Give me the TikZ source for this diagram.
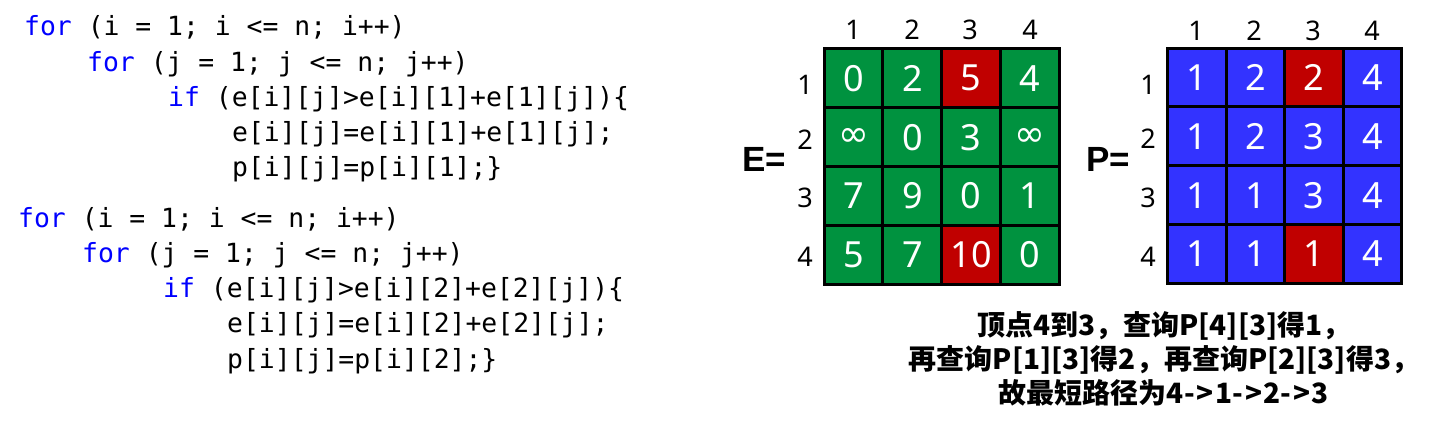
\documentclass[tikz,border=0pt]{standalone}
\usepackage{fontspec}
\setmainfont{Noto Sans}
\newfontfamily\codefont{DejaVu Sans Mono}
\newfontfamily\cjkfont{Noto Sans CJK SC}
\newfontfamily\symfont{DejaVu Sans}
\newfontfamily\namefont{Liberation Sans}
\definecolor{kw}{RGB}{0,0,255}
\definecolor{eg}{RGB}{0,146,63}
\definecolor{rd}{RGB}{192,0,0}
\definecolor{pb}{RGB}{51,51,255}
\newcommand{\infsym}{{\symfont\fontsize{37}{40}\selectfont ∞}}
\newcommand{\arw}{-\kern2pt>\kern1.5pt}
\begin{document}
\begin{tikzpicture}[x=1pt,y=-1pt,
  code/.style={anchor=base west,inner sep=0pt,font=\codefont\fontsize{26.4}{30}\selectfont},
  cell/.style={draw=black,line width=3pt,minimum width=58.75pt,minimum height=58.9pt,inner sep=0pt,outer sep=0pt,text=white,font=\fontsize{36}{40}\selectfont},
  gcell/.style={cell,fill=eg},
  bcell/.style={cell,fill=pb},
  rcell/.style={cell,fill=rd},
  idx/.style={inner sep=0pt,font=\fontsize{27}{30}\selectfont},
  mname/.style={anchor=base west,inner sep=0pt,font=\namefont\bfseries\fontsize{35}{40}\selectfont},
  note/.style={align=center,inner sep=0pt,font=\cjkfont\bfseries\fontsize{28}{34}\selectfont}]
\useasboundingbox (0,0) rectangle (1451,430);
% code block 1
\node[code] (c1) at (24,36) {\textcolor{kw}{for} (i = 1; i <= n; i++)};
\node[code] (c2) at (87,71.5) {\textcolor{kw}{for} (j = 1; j <= n; j++)};
\node[code] (c3) at (168,107) {\textcolor{kw}{if} (e[i][j]>e[i][1]+e[1][j])\{};
\node[code] (c4) at (232,142) {e[i][j]=e[i][1]+e[1][j];};
\node[code] (c5) at (232,177) {p[i][j]=p[i][1];\}};
% code block 2
\node[code] (d1) at (18,228) {\textcolor{kw}{for} (i = 1; i <= n; i++)};
\node[code] (d2) at (82,263) {\textcolor{kw}{for} (j = 1; j <= n; j++)};
\node[code] (d3) at (163,298) {\textcolor{kw}{if} (e[i][j]>e[i][2]+e[2][j])\{};
\node[code] (d4) at (227,333) {e[i][j]=e[i][2]+e[2][j];};
\node[code] (d5) at (227,368) {p[i][j]=p[i][2];\}};
% matrix E
\node[mname] (Ename) at (742,172) {E=};
\node[idx] (ec1) at (853,30) {1};
\node[idx] (ec2) at (912,30) {2};
\node[idx] (ec3) at (970,30) {3};
\node[idx] (ec4) at (1030,30) {4};
\node[idx] (er1) at (805,85) {1};
\node[idx] (er2) at (805,140) {2};
\node[idx] (er3) at (805,198) {3};
\node[idx] (er4) at (805,257) {4};
\node[gcell] (e11) at (853.6,78.3) {0};
\node[gcell] (e12) at (912.3,78.3) {2};
\node[rcell] (e13) at (971,78.3) {5};
\node[gcell] (e14) at (1029.8,78.3) {4};
\node[gcell] (e21) at (853.6,137.2) {\infsym};
\node[gcell] (e22) at (912.3,137.2) {0};
\node[gcell] (e23) at (971,137.2) {3};
\node[gcell] (e24) at (1029.8,137.2) {\infsym};
\node[gcell] (e31) at (853.6,196.1) {7};
\node[gcell] (e32) at (912.3,196.1) {9};
\node[gcell] (e33) at (971,196.1) {0};
\node[gcell] (e34) at (1029.8,196.1) {1};
\node[gcell] (e41) at (853.6,255) {5};
\node[gcell] (e42) at (912.3,255) {7};
\node[rcell] (e43) at (971,255) {10};
\node[gcell] (e44) at (1029.8,255) {0};
% matrix P
\node[mname] (Pname) at (1086,172) {P=};
\node[idx] (pc1) at (1196,31) {1};
\node[idx] (pc2) at (1254,31) {2};
\node[idx] (pc3) at (1313,31) {3};
\node[idx] (pc4) at (1372,31) {4};
\node[idx] (pr1) at (1148,85) {1};
\node[idx] (pr2) at (1148,139) {2};
\node[idx] (pr3) at (1148,198) {3};
\node[idx] (pr4) at (1148,257) {4};
\node[bcell] (p11) at (1196.8,77.6) {1};
\node[bcell] (p12) at (1255.4,77.6) {2};
\node[rcell] (p13) at (1314,77.6) {2};
\node[bcell] (p14) at (1372.6,77.6) {4};
\node[bcell] (p21) at (1196.8,136.4) {1};
\node[bcell] (p22) at (1255.4,136.4) {2};
\node[bcell] (p23) at (1314,136.4) {3};
\node[bcell] (p24) at (1372.6,136.4) {4};
\node[bcell] (p31) at (1196.8,195.2) {1};
\node[bcell] (p32) at (1255.4,195.2) {1};
\node[bcell] (p33) at (1314,195.2) {3};
\node[bcell] (p34) at (1372.6,195.2) {4};
\node[bcell] (p41) at (1196.8,254) {1};
\node[bcell] (p42) at (1255.4,254) {1};
\node[rcell] (p43) at (1314,254) {1};
\node[bcell] (p44) at (1372.6,254) {4};
% note
\node[note] (txt) at (1164,359) {顶点4到3，查询P[4][3]得1，\\再查询P[1][3]得2，再查询P[2][3]得3，\\故最短路径为4\arw 1\arw 2\arw 3};
\end{tikzpicture}
\end{document}
